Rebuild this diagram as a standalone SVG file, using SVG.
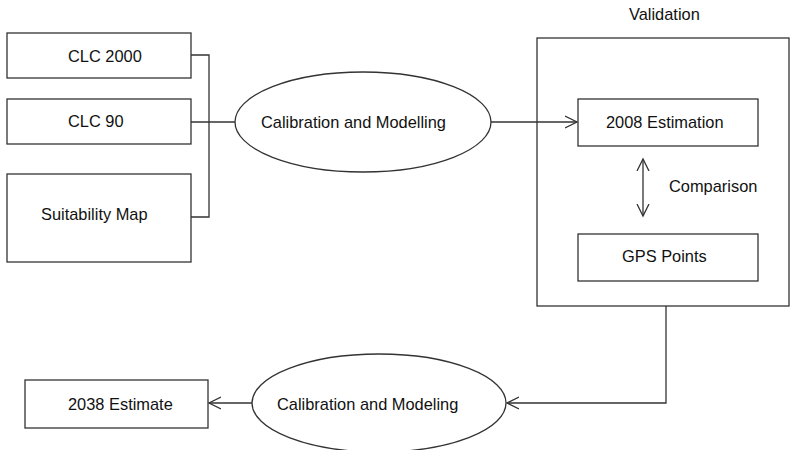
<svg xmlns="http://www.w3.org/2000/svg" width="790" height="450" viewBox="0 0 790 450">
<style>
.box{fill:#fff;stroke:#333;stroke-width:1.3}
.ln{fill:none;stroke:#333;stroke-width:1.3}
text{font-family:"Liberation Sans",Arial,sans-serif;font-size:16.4px;fill:#111}
</style>
<defs>
<marker id="arr" markerWidth="14" markerHeight="14" refX="12" refY="7" orient="auto-start-reverse" markerUnits="userSpaceOnUse">
<path d="M0,1 L12,7 L0,13" fill="none" stroke="#333" stroke-width="1.3"/>
</marker>
</defs>
<rect width="790" height="450" fill="#fff"/>
<g id="validation">
<rect class="box" x="537" y="38" width="252" height="268"/>
<text x="629" y="20">Validation</text>
</g>
<g id="connectors">
<path class="ln" d="M191,55 H209 V217 H191"/>
<path class="ln" d="M191,122 H235"/>
<path class="ln" d="M491,122 H577" marker-end="url(#arr)"/>
<path class="ln" d="M643,159 V216" marker-start="url(#arr)" marker-end="url(#arr)"/>
<path class="ln" d="M666,306 V403 H507" marker-end="url(#arr)"/>
<path class="ln" d="M252,403 H209" marker-end="url(#arr)"/>
</g>
<g id="clc2000">
<rect class="box" x="7" y="33" width="184" height="45"/>
<text x="68" y="62">CLC 2000</text>
</g>
<g id="clc90">
<rect class="box" x="7" y="99" width="184" height="45"/>
<text x="68" y="127">CLC 90</text>
</g>
<g id="suitability">
<rect class="box" x="7" y="174" width="184" height="88"/>
<text x="41" y="220">Suitability Map</text>
</g>
<g id="calib1">
<ellipse class="box" cx="363" cy="122" rx="128" ry="50"/>
<text x="261" y="128">Calibration and Modelling</text>
</g>
<g id="est2008">
<rect class="box" x="578" y="99" width="180" height="47"/>
<text x="606" y="128">2008 Estimation</text>
</g>
<text x="669" y="192">Comparison</text>
<g id="gps">
<rect class="box" x="578" y="234" width="180" height="47"/>
<text x="622" y="262">GPS Points</text>
</g>
<g id="calib2">
<ellipse class="box" cx="379" cy="403" rx="127" ry="49"/>
<text x="277" y="410">Calibration and Modeling</text>
</g>
<g id="est2038">
<rect class="box" x="25" y="380" width="183" height="48"/>
<text x="68" y="410">2038 Estimate</text>
</g>
</svg>
